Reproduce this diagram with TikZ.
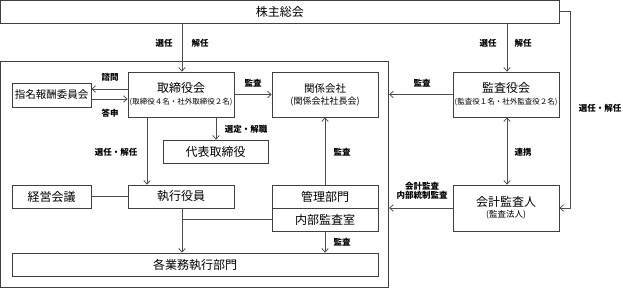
\documentclass[tikz,border=0pt]{standalone}
\usepackage{fontspec}
\setmainfont{Noto Sans CJK JP}
\usetikzlibrary{arrows.meta}
\begin{document}
\begin{tikzpicture}[x=1pt,y=-1pt,
  box/.style={draw=black!75,line width=0.8pt,rectangle,inner sep=0pt,align=center},
  conn/.style={draw=black!70,line width=0.8pt},
  arr/.style={conn,-{Straight Barb[length=3.5pt,width=6.5pt]}},
  darr/.style={conn,{Straight Barb[length=3.5pt,width=6.5pt]}-{Straight Barb[length=3.5pt,width=6.5pt]}},
  lbl/.style={font=\fontsize{8.5}{10}\selectfont\bfseries,inner sep=0pt,align=center},
  ttl/.style={font=\fontsize{12}{13}\selectfont}]
\useasboundingbox (0,0) rectangle (623,288);
% boxes
\node[box,ttl,minimum width=558.5pt,minimum height=22.5pt] (sh) at (279.75,11.75) {株主総会};
\node[box,minimum width=388pt,minimum height=226pt] (cont) at (194.75,174) {};
\node[box,ttl,minimum width=106pt,minimum height=45pt] (tori) at (181,94.5)
  {取締役会\\[-1pt]{\fontsize{7.5}{8}\selectfont (取締役４名・社外取締役２名)}};
\node[box,font=\fontsize{10.5}{12}\selectfont,minimum width=79pt,minimum height=24pt] (shimei) at (51.5,95) {指名報酬委員会};
\node[box,font=\fontsize{10.5}{12}\selectfont,minimum width=106pt,minimum height=45pt] (kankei) at (325,94.5)
  {関係会社\\[0pt]{\fontsize{9}{9}\selectfont (関係会社社長会)}};
\node[box,ttl,minimum width=106pt,minimum height=45pt] (kansa) at (506,94.5)
  {監査役会\\[-1pt]{\fontsize{7.5}{8}\selectfont (監査役１名・社外監査役２名)}};
\node[box,ttl,minimum width=105pt,minimum height=23pt] (daihyo) at (215.5,151.5) {代表取締役};
\node[box,ttl,minimum width=106pt,minimum height=23pt] (shikko) at (181,196.5) {執行役員};
\node[box,ttl,minimum width=79pt,minimum height=23pt] (keiei) at (51.5,196.5) {経営会議};
\node[box,ttl,minimum width=106pt,minimum height=23pt] (kanri) at (325,196.5) {管理部門};
\node[box,ttl,minimum width=106pt,minimum height=23pt] (naibu) at (325,219.5) {内部監査室};
\node[box,ttl,minimum width=366pt,minimum height=23pt] (kaku) at (195,264.5) {各業務執行部門};
\node[box,ttl,minimum width=106pt,minimum height=46pt] (kaikei) at (506,208)
  {会計監査人\\[-2.5pt]{\fontsize{8.5}{9}\selectfont (監査法人)}};
% connectors
\draw[arr] (sh.south -| 182,0) -- (tori.north -| 182,0);
\draw[arr] (sh.south -| 507,0) -- (kansa.north -| 507,0);
\coordinate (rt) at (570,11.75);
\draw[arr] (sh.east) -- (rt) |- (kaikei.east);
\draw[arr] (tori.west |- 0,89) -- (shimei.east |- 0,89);
\draw[arr] (shimei.east |- 0,99) -- (tori.west |- 0,99);
\draw[arr] (tori.east) -- (kankei.west);
\draw[arr] (kansa.west) -- (kansa.west -| cont.east);
\draw[darr] (kansa.south -| 507,0) -- (kaikei.north -| 507,0);
\draw[arr] (kaikei.west) -- (kaikei.west -| cont.east);
\draw[arr] (tori.south -| 216,0) -- (daihyo.north -| 216,0);
\draw[arr] (tori.south -| 147,0) -- (shikko.north -| 147,0);
\draw[conn] (keiei.east) -- (shikko.west);
\draw[arr] (kanri.north) -- (kankei.south);
\draw[arr] (naibu.south) -- (kaku.north -| naibu.south);
\draw[arr] (shikko.south -| 182,0) -- (kaku.north -| 182,0);
\draw[conn] (naibu.west) -- (naibu.west -| 182,0);
% labels
\node[lbl] (l1) at (164,43) {選任};
\node[lbl] (l2) at (200,43) {解任};
\node[lbl] (l3) at (488,43) {選任};
\node[lbl] (l4) at (523,43) {解任};
\node[lbl] (l5) at (600,108) {選任・解任};
\node[lbl] (l6) at (110,77) {諮問};
\node[lbl] (l7) at (110,113) {答申};
\node[lbl] (l8) at (253,83) {監査};
\node[lbl] (l9) at (422,83) {監査};
\node[lbl] (l10) at (246,129) {選定・解職};
\node[lbl] (l11) at (116,152) {選任・解任};
\node[lbl] (l12) at (342,152) {監査};
\node[lbl] (l13) at (523,152) {連携};
\node[lbl] (l14) at (422,191) {会計監査\\[-1.5pt]内部統制監査};
\node[lbl] (l15) at (342,242) {監査};
\end{tikzpicture}
\end{document}
